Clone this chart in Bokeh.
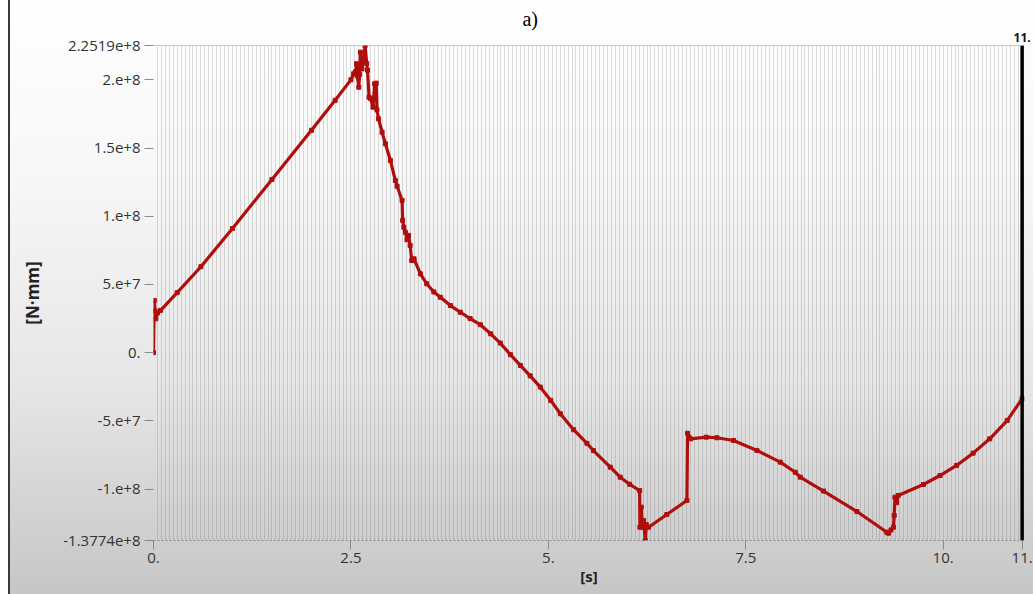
import numpy as np
from bokeh.plotting import figure
from bokeh.models import Range1d, FixedTicker, Span, LinearAxis
from bokeh.embed import file_html
from bokeh.resources import INLINE

# time [s]
time_s = [0.0, 0.01, 0.02, 0.03, 0.05, 0.09, 0.3, 0.6, 1.0, 1.5, 2.0, 2.3, 2.5,
          2.535, 2.56, 2.57, 2.58, 2.60, 2.61, 2.62, 2.64, 2.66, 2.68, 2.70, 2.71,
          2.73, 2.75, 2.78, 2.80, 2.82, 2.83, 2.85, 2.895, 2.937, 3.0, 3.063, 3.085,
          3.148, 3.155, 3.17, 3.19, 3.21, 3.23, 3.25, 3.27, 3.30, 3.38, 3.46, 3.55,
          3.633, 3.76, 3.886, 4.01, 4.139, 4.27, 4.392, 4.52, 4.646, 4.77, 4.899,
          5.03, 5.152, 5.32, 5.489, 5.57, 5.785, 5.91, 6.03, 6.156, 6.16, 6.177, 6.19,
          6.206, 6.228, 6.24, 6.27, 6.5, 6.755, 6.763, 6.78, 6.80, 7.0, 7.135, 7.346,
          7.642, 7.937, 8.127, 8.19, 8.485, 8.908, 9.287, 9.308, 9.34, 9.37, 9.38,
          9.39, 9.41, 9.43, 9.75, 9.96, 10.17, 10.38, 10.59, 10.81, 11.0]

# moment [1e6 N·mm]
moment_m = [0.0, 38.2, 30.5, 24.8, 29.0, 31.0, 44.0, 63.0, 91.0, 127.0, 163.0, 185.0, 200.0,
            204.5, 206.0, 211.8, 203.0, 194.6, 204.0, 220.3, 208.0, 214.0, 225.19, 212.0, 207.1,
            187.3, 186.2, 180.0, 197.1, 197.6, 178.0, 171.4, 161.6, 153.1, 140.9, 126.2, 122.0,
            111.6, 97.0, 92.0, 88.3, 82.7, 86.0, 78.6, 67.5, 68.8, 57.8, 50.5, 44.5,
            40.6, 34.5, 29.6, 25.0, 20.5, 13.8, 7.0, -1.5, -9.4, -17.0, -25.3,
            -35.0, -44.8, -56.5, -66.5, -71.8, -84.0, -91.3, -96.5, -101.1, -128.0, -113.3, -128.0,
            -123.1, -137.74, -126.0, -128.0, -118.7, -108.4, -59.1, -62.0, -63.2, -62.0, -62.4, -64.4,
            -71.7, -80.3, -87.7, -91.3, -101.5, -116.5, -131.7, -132.4, -130.0, -128.0, -119.4,
            -106.0, -110.0, -104.7, -96.7, -90.1, -82.7, -73.7, -63.2, -49.8, -33.8]

y_ticks = [225.19, 200.0, 150.0, 100.0, 50.0, 0.0, -50.0, -100.0, -137.74]
y_tick_labels = ["2.2519e+8", "2.e+8", "1.5e+8", "1.e+8", "5.e+7", "0.", "-5.e+7", "-1.e+8", "-1.3774e+8"]
x_ticks = [0, 2.5, 5, 7.5, 10, 11]
x_tick_labels = ["0.", "2.5", "5.", "7.5", "10.", "11."]
cursor_time = 11.0
panel_tag = "a)"

RED = "#b00d0d"
FONT = "Open Sans"

p = figure(width=1025, height=594, x_range=Range1d(0, 11.03), y_range=Range1d(-137.74, 225.19),
           output_backend="svg", toolbar_location=None,
           min_border_left=143, min_border_right=11, min_border_top=45, min_border_bottom=54)

p.background_fill_alpha = 0
p.border_fill_alpha = 0
p.outline_line_color = None
p.styles = {"background": "linear-gradient(to bottom, #ffffff 0%, #f7f7f7 30%, #e6e6e6 65%, #c6c6c6 100%)",
            "border-left": "2px solid #3a3a3a", "margin-left": "8px"}

# dense vertical grid
p.ygrid.visible = False
p.xgrid.ticker = FixedTicker(ticks=list(np.round(np.arange(0, 11.001, 0.05), 3)))
p.xgrid.grid_line_color = "#555555"
p.xgrid.grid_line_alpha = 0.2

# left axis
ya = p.left[0]
ya.ticker = FixedTicker(ticks=y_ticks)
ya.major_label_overrides = dict(zip(y_ticks, y_tick_labels))
ya.axis_line_color = None
ya.major_tick_in = 0
ya.major_tick_out = 9
ya.major_tick_line_color = "#8a8a8a"
ya.minor_tick_line_color = None
ya.major_label_text_font = FONT
ya.major_label_text_font_size = "15px"
ya.major_label_text_color = "#333333"
ya.major_label_standoff = 4
ya.axis_label = "[N·mm]"
ya.axis_label_text_font = FONT
ya.axis_label_text_font_size = "17px"
ya.axis_label_text_font_style = "bold"
ya.axis_label_text_color = "#222222"
ya.axis_label_standoff = 16

# bottom axis
xa = p.below[0]
xa.ticker = FixedTicker(ticks=x_ticks)
xa.major_label_overrides = dict(zip(x_ticks, x_tick_labels))
xa.axis_line_color = "#8a8a8a"
xa.axis_line_dash = "2 2"
xa.major_tick_in = 0
xa.major_tick_out = 9
xa.major_tick_line_color = "#8a8a8a"
xa.minor_tick_line_color = None
xa.major_label_text_font = FONT
xa.major_label_text_font_size = "15px"
xa.major_label_text_color = "#333333"
xa.major_label_standoff = 3
xa.axis_label = "[s]"
xa.axis_label_text_font = FONT
xa.axis_label_text_font_size = "15px"
xa.axis_label_text_font_style = "bold"
xa.axis_label_text_color = "#222222"
xa.axis_label_standoff = 0

# top: cursor value label and panel tag
cur_axis = LinearAxis(ticker=FixedTicker(ticks=[cursor_time]),
                      major_label_overrides={cursor_time: "11."},
                      axis_line_color=None, major_tick_in=0, major_tick_out=0,
                      minor_tick_line_color=None, major_label_standoff=4,
                      major_label_text_font=FONT, major_label_text_font_size="12px",
                      major_label_text_font_style="bold", major_label_text_color="#111111")
p.add_layout(cur_axis, "above")
tag_axis = LinearAxis(ticker=FixedTicker(ticks=[4.77]),
                      major_label_overrides={4.77: panel_tag},
                      axis_line_color=None, major_tick_in=0, major_tick_out=0,
                      minor_tick_line_color=None, major_label_standoff=0,
                      major_label_text_font="Liberation Serif", major_label_text_font_size="20px",
                      major_label_text_color="#000000")
p.add_layout(tag_axis, "above")

# top frame line and cursor line
p.add_layout(Span(location=225.19, dimension="width", line_color="#9a9a9a", line_width=1))
p.add_layout(Span(location=cursor_time, dimension="height", line_color="black", line_width=3.5))

# curve
p.line(time_s, moment_m, line_color=RED, line_width=3.2)
p.scatter(time_s, moment_m, marker="square", size=4, fill_color=RED, line_color=RED)

open("out.html", "w").write(file_html(p, INLINE))
